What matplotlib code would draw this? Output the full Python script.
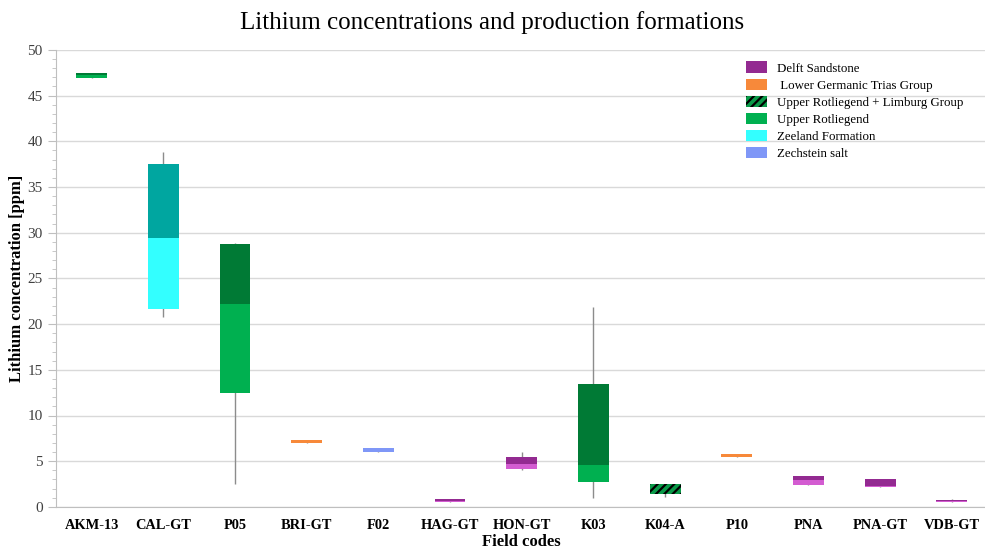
import matplotlib.pyplot as plt
from matplotlib.patches import Patch

plt.rcParams["font.family"] = ["Liberation Serif", "DejaVu Serif"]
plt.rcParams["hatch.color"] = "black"
plt.rcParams["hatch.linewidth"] = 1.6

# ---------------------------------------------------------------- data
campos = ["AKM-13", "CAL-GT", "P05", "BRI-GT", "F02", "HAG-GT", "HON-GT",
          "K03", "K04-A", "P10", "PNA", "PNA-GT", "VDB-GT"]
formacao = ["Upper Rotliegend", "Zeeland Formation", "Upper Rotliegend",
            "Lower Germanic Trias Group", "Zechstein salt", "Delft Sandstone",
            "Delft Sandstone", "Upper Rotliegend",
            "Upper Rotliegend + Limburg Group", "Lower Germanic Trias Group",
            "Delft Sandstone", "Delft Sandstone", "Delft Sandstone"]
w_min = [46.9, 20.8, 2.5, 7.0, 6.0, 0.5, 4.0, 1.0, 1.1, 5.45, 2.4, 2.2, 0.5]
q1 = [46.95, 21.6, 12.5, 7.0, 6.0, 0.5, 4.15, 2.7, 1.4, 5.45, 2.4, 2.2, 0.5]
mediana = [47.3, 29.4, 22.2, 7.15, 6.2, 0.6, 4.7, 4.6, 1.95, 5.6, 2.9, 2.3, 0.6]
q3 = [47.45, 37.5, 28.8, 7.35, 6.4, 0.85, 5.5, 13.5, 2.5, 5.8, 3.35, 3.1, 0.8]
w_max = [47.45, 38.8, 28.9, 7.35, 6.4, 0.85, 6.0, 21.9, 2.5, 5.8, 3.35, 3.1, 0.9]

legenda = ["Delft Sandstone", " Lower Germanic Trias Group",
           "Upper Rotliegend + Limburg Group", "Upper Rotliegend",
           "Zeeland Formation", "Zechstein salt"]

# (cor da metade inferior, cor da metade superior)
cores = {
    "Delft Sandstone": ("#D35CD1", "#932A91"),
    "Lower Germanic Trias Group": ("#F7893A", "#F7893A"),
    "Upper Rotliegend + Limburg Group": ("#0A9A48", "#0A9A48"),
    "Upper Rotliegend": ("#00B050", "#007A35"),
    "Zeeland Formation": ("#33FFFF", "#00A6A0"),
    "Zechstein salt": ("#7F97F7", "#7F97F7"),
}

# ---------------------------------------------------------------- figure
fig = plt.figure(figsize=(9.85, 5.54), dpi=100)
ax = fig.add_axes([0.0567, 0.085, 0.946, 0.825])

x = range(len(campos))
largura = 0.43
for i in x:
    baixo, cima = cores[formacao[i]]
    hatch = "////" if "Limburg" in formacao[i] else None
    ax.vlines(i, w_min[i], w_max[i], color="#8C8C8C", lw=1.0, zorder=2)
    ax.bar(i, mediana[i] - q1[i], bottom=q1[i], width=largura, color=baixo,
           edgecolor=baixo if hatch is None else "black", lw=0, hatch=hatch,
           zorder=3)
    ax.bar(i, q3[i] - mediana[i], bottom=mediana[i], width=largura, color=cima,
           edgecolor=cima if hatch is None else "black", lw=0, hatch=hatch,
           zorder=3)

ax.set_xlim(-0.5, len(campos) - 0.5)
ax.set_ylim(0, 50)
ax.set_yticks(range(0, 51, 5))
ax.set_yticks(range(0, 51, 1), minor=True)
ax.set_xticks(list(x))
ax.set_xticklabels(campos, fontweight="bold", fontsize=10.4)
ax.tick_params(axis="y", which="major", length=6, color="#BFBFBF",
               labelsize=11, labelcolor="#404040")
ax.tick_params(axis="y", which="minor", length=3, color="#BFBFBF")
ax.tick_params(axis="x", length=0, pad=9)
ax.grid(axis="y", which="major", color="#D9D9D9", lw=1.0, zorder=0)
ax.set_axisbelow(True)
for s in ["top", "right"]:
    ax.spines[s].set_visible(False)
for s in ["left", "bottom"]:
    ax.spines[s].set_color("#BFBFBF")

ax.set_ylabel("Lithium concentration [ppm]", fontweight="bold", fontsize=12,
              labelpad=2)
ax.set_xlabel("Field codes", fontweight="bold", fontsize=12, labelpad=1)
fig.suptitle("Lithium concentrations and production formations", fontsize=18,
             y=0.98)

handles = []
for nome in legenda:
    chave = nome.strip()
    if "Limburg" in chave:
        handles.append(Patch(facecolor="#0A9A48", edgecolor="black", lw=0,
                             hatch="////", label=nome))
    else:
        handles.append(Patch(facecolor=cores[chave][1] if chave == "Delft Sandstone"
                             else cores[chave][0], lw=0, label=nome))
fig.legend(handles=handles, loc="upper left", bbox_to_anchor=(0.746, 0.91),
           frameon=False, fontsize=9.3, handlelength=1.6, handleheight=1.0,
           labelspacing=0.3, handletextpad=0.8)

fig.savefig("out.png", dpi=100)
